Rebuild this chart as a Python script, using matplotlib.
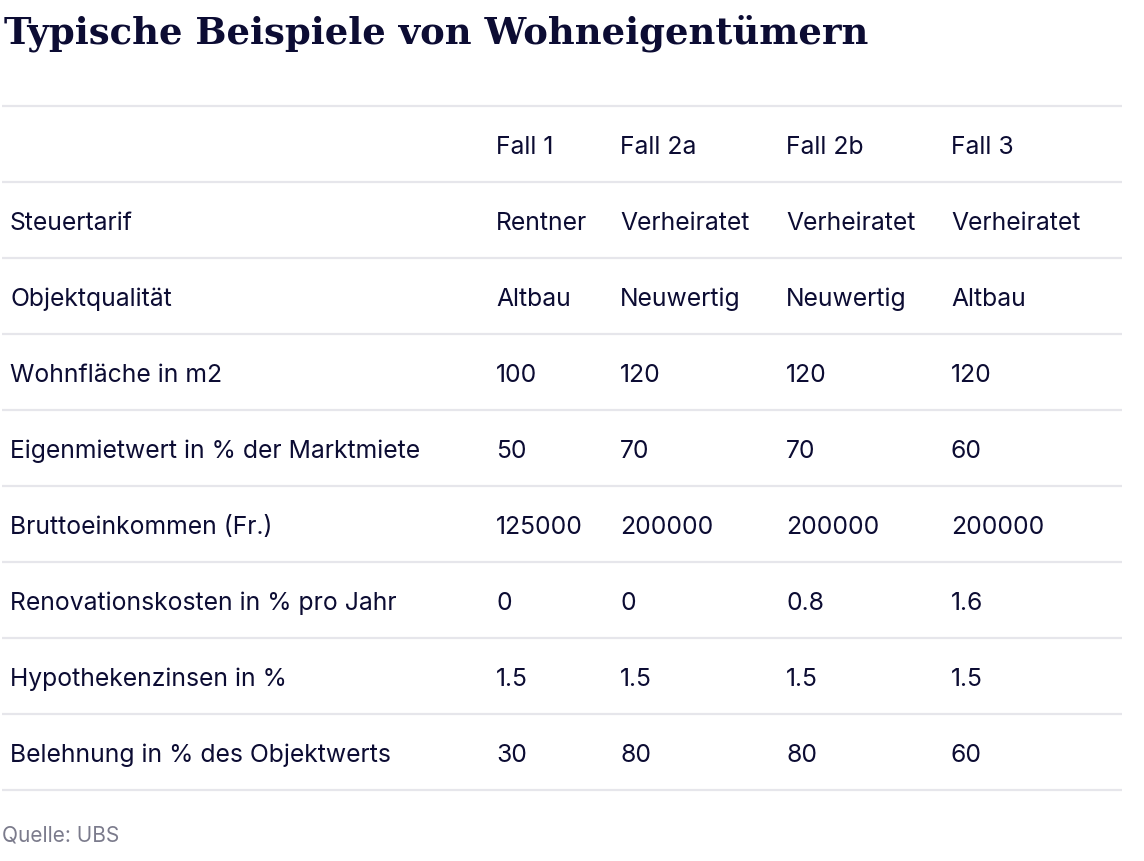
import matplotlib
matplotlib.use("Agg")
import matplotlib.pyplot as plt

# table content
title = "Typische Beispiele von Wohneigentümern"
source = "Quelle: UBS"
columns = ["Fall 1", "Fall 2a", "Fall 2b", "Fall 3"]
row_labels = [
    "Steuertarif",
    "Objektqualität",
    "Wohnfläche in m2",
    "Eigenmietwert in % der Marktmiete",
    "Bruttoeinkommen (Fr.)",
    "Renovationskosten in % pro Jahr",
    "Hypothekenzinsen in %",
    "Belehnung in % des Objektwerts",
]
fall_1 = ["Rentner", "Altbau", "100", "50", "125000", "0", "1.5", "30"]
fall_2a = ["Verheiratet", "Neuwertig", "120", "70", "200000", "0", "1.5", "80"]
fall_2b = ["Verheiratet", "Neuwertig", "120", "70", "200000", "0.8", "1.5", "80"]
fall_3 = ["Verheiratet", "Altbau", "120", "60", "200000", "1.6", "1.5", "60"]

# layout (pixels)
W, H = 1144, 862
col_x = [496, 620, 786, 951]
label_x = 10
first_line = 107
row_h = 76
navy = "#0c0c33"
rule = "#e6e6eb"
body_font = ["Inter", "DejaVu Sans"]

fig = plt.figure(figsize=(W / 100, H / 100), dpi=100)
ax = fig.add_axes([0, 0, 1, 1])
ax.set_xlim(0, W)
ax.set_ylim(H, 0)
ax.axis("off")

t = ax.text(4, 44, title, fontsize=26, fontweight="bold", family=["DejaVu Serif"],
            color=navy, va="baseline", ha="left")
# scale the title so it spans roughly the same width as in the original
r = fig.canvas.get_renderer()
w = t.get_window_extent(r).width
t.set_fontsize(26 * 866 / w)

n_rows = len(row_labels) + 1
for i in range(n_rows + 1):
    y = first_line + i * row_h
    ax.plot([2, 1122], [y, y], color=rule, lw=1.6, solid_capstyle="butt")

def cell(x, r, s):
    y = first_line + (r + 0.5) * row_h
    ax.text(x, y, s, fontsize=17.8, family=body_font, color=navy, va="center_baseline", ha="left")

for c, name in enumerate(columns):
    cell(col_x[c], 0, name)

values = [fall_1, fall_2a, fall_2b, fall_3]
for r, lab in enumerate(row_labels):
    cell(label_x, r + 1, lab)
    for c, col in enumerate(values):
        cell(col_x[c], r + 1, col[r])

ax.text(2, 836, source, fontsize=15, family=body_font, color="#7b7b8c", va="center", ha="left")

fig.savefig("out.png", dpi=100)
